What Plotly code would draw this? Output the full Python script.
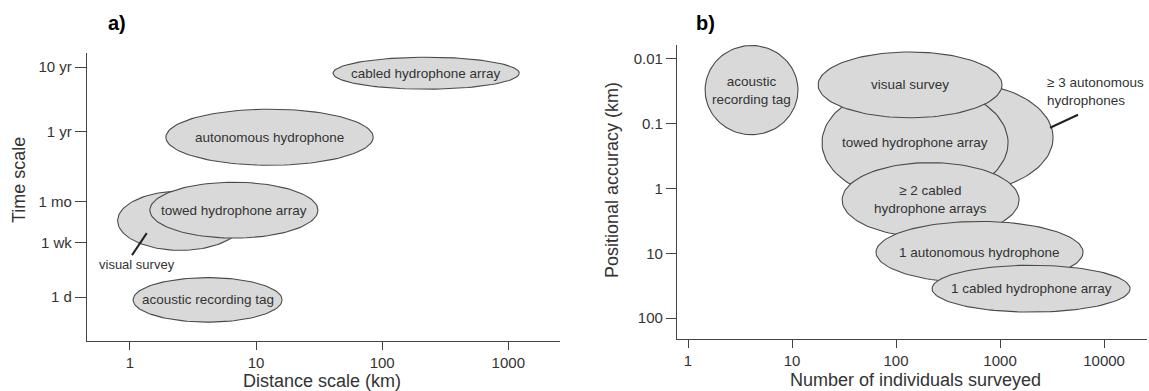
import numpy as np
import plotly.graph_objects as go

W, H = 1149, 391

# ---- Panel a: monitoring methods by spatial and temporal scale ----
a_names = ["cabled hydrophone array", "autonomous hydrophone", "visual survey",
           "towed hydrophone array", "acoustic recording tag"]
a_dist_lo = [40.8, 1.93, 0.80, 1.44, 1.06]      # km
a_dist_hi = [1222, 84.9, 7.9, 31.0, 16.1]       # km
a_time_lo = [1660, 110, 5.3, 8.2, 0.41]         # days
a_time_hi = [5190, 813, 43.7, 60.0, 2.0]        # days
a_label_inside = [True, True, False, True, True]

time_tick_days = [1, 7, 30.4, 365.25, 3652.5]
time_tick_text = ["1 d", "1 wk", "1 mo", "1 yr", "10 yr"]
dist_ticks = [1, 10, 100, 1000]

# ---- Panel b: positional accuracy vs. number of individuals ----
b_names = ["acoustic<br>recording tag", "≥ 3 autonomous<br>hydrophones",
           "towed hydrophone array", "visual survey",
           "≥ 2 cabled<br>hydrophone arrays", "1 autonomous hydrophone",
           "1 cabled hydrophone array"]
b_n_lo = [1.46, 52.6, 19.4, 17.8, 30.3, 64.2, 222]
b_n_hi = [11.4, 3235, 1194, 1045, 1524, 6280, 17800]
b_acc_lo = [0.0062, 0.0234, 0.0251, 0.0078, 0.398, 3.22, 15.3]   # km
b_acc_hi = [0.1476, 1.15, 1.53, 0.081, 5.68, 28.9, 80.9]          # km
b_label_inside = [True, False, True, True, True, True, True]

acc_ticks = [0.01, 0.1, 1, 10, 100]
acc_tick_text = ["0.01", "0.1", "1", "10", "100"]
n_ticks = [1, 10, 100, 1000, 10000]

FILL = "#d9d9d9"
EDGE = "#4a4a4a"
TXT = "#333333"
FONT = "Liberation Sans, Arial, sans-serif"


def ellipse(xlo, xhi, ylo, yhi, n=120):
    """Ellipse spanning the given extents in log-log space."""
    lx0, lx1 = np.log10(xlo), np.log10(xhi)
    ly0, ly1 = np.log10(ylo), np.log10(yhi)
    cx, cy = (lx0 + lx1) / 2, (ly0 + ly1) / 2
    rx, ry = (lx1 - lx0) / 2, (ly1 - ly0) / 2
    t = np.linspace(0, 2 * np.pi, n)
    return 10 ** (cx + rx * np.cos(t)), 10 ** (cy + ry * np.sin(t)), 10 ** cx, 10 ** cy


fig = go.Figure()
annotations = []

for name, x0, x1, y0, y1, inside in zip(a_names, a_dist_lo, a_dist_hi,
                                        a_time_lo, a_time_hi, a_label_inside):
    ex, ey, cx, cy = ellipse(x0, x1, y0, y1)
    fig.add_trace(go.Scatter(x=ex, y=ey, mode="lines", fill="toself",
                             fillcolor=FILL, line=dict(color=EDGE, width=1.1),
                             xaxis="x", yaxis="y", hoverinfo="skip", name=name))
    if inside:
        annotations.append(dict(x=np.log10(cx), y=np.log10(cy), xref="x", yref="y",
                                text=name, showarrow=False,
                                font=dict(size=13.5, color=TXT, family=FONT)))

for name, x0, x1, y0, y1, inside in zip(b_names, b_n_lo, b_n_hi,
                                        b_acc_lo, b_acc_hi, b_label_inside):
    ex, ey, cx, cy = ellipse(x0, x1, y0, y1)
    fig.add_trace(go.Scatter(x=ex, y=ey, mode="lines", fill="toself",
                             fillcolor=FILL, line=dict(color=EDGE, width=1.1),
                             xaxis="x2", yaxis="y2", hoverinfo="skip", name=name))
    if inside:
        annotations.append(dict(x=np.log10(cx), y=np.log10(cy), xref="x2", yref="y2",
                                text=name, showarrow=False,
                                font=dict(size=13.5, color=TXT, family=FONT)))

# Leader lines for labels placed outside their ellipse
fig.add_trace(go.Scatter(x=[1.04, 1.36], y=[4.47, 9.8], mode="lines",
                         line=dict(color="#222", width=2), xaxis="x", yaxis="y",
                         hoverinfo="skip"))
annotations.append(dict(x=np.log10(1.14), y=np.log10(3.24), xref="x", yref="y",
                        text="visual survey", showarrow=False,
                        font=dict(size=13, color=TXT, family=FONT)))

fig.add_trace(go.Scatter(x=[3027, 5623], y=[0.1153, 0.0728], mode="lines",
                         line=dict(color="#222", width=2), xaxis="x2", yaxis="y2",
                         hoverinfo="skip"))
annotations.append(dict(x=np.log10(2710), y=np.log10(0.0316), xref="x2", yref="y2",
                        text="≥ 3 autonomous<br>hydrophones", showarrow=False,
                        xanchor="left", align="left",
                        font=dict(size=13.5, color=TXT, family=FONT)))

# Panel letters and axis titles
def paper_text(x, y, text, size, angle=0, bold=False, color=TXT):
    return dict(x=x / W, y=1 - y / H, xref="paper", yref="paper",
                text=f"<b>{text}</b>" if bold else text, showarrow=False,
                textangle=angle, xanchor="center", yanchor="middle",
                font=dict(size=size, color=color, family=FONT))

annotations += [
    paper_text(117, 23, "a)", 20, bold=True, color="#000"),
    paper_text(705, 23, "b)", 20, bold=True, color="#000"),
    paper_text(19, 180, "Time scale", 18, angle=-90),
    paper_text(322, 381, "Distance scale (km)", 18),
    paper_text(612, 180, "Positional accuracy (km)", 18, angle=-90),
    paper_text(916, 380, "Number of individuals surveyed", 18),
]

axis_common = dict(type="log", showgrid=False, zeroline=False, showline=True,
                   linecolor="#444", linewidth=1.3, ticks="outside",
                   tickcolor="#444", tickwidth=1.3,
                   tickfont=dict(size=15, color=TXT, family=FONT))

fig.update_layout(
    width=W, height=H, autosize=False,
    margin=dict(l=0, r=0, t=0, b=0),
    paper_bgcolor="white", plot_bgcolor="white",
    showlegend=False,
    annotations=annotations,
    xaxis=dict(**axis_common, domain=[87 / W, 560 / W], anchor="y",
               range=[-0.34, 3.41], tickvals=dist_ticks,
               ticktext=[str(v) for v in dist_ticks], ticklen=8),
    yaxis=dict(**axis_common, domain=[1 - 341 / H, 1 - 53 / H], anchor="x",
               range=[-0.68, 3.78], tickvals=time_tick_days,
               ticktext=time_tick_text, ticklen=11),
    xaxis2=dict(**axis_common, domain=[677 / W, 1147 / W], anchor="y2",
                range=[-0.106, 4.413], tickvals=n_ticks,
                ticktext=[str(v) for v in n_ticks], ticklen=8),
    yaxis2=dict(**axis_common, domain=[1 - 339 / H, 1 - 45 / H], anchor="x2",
                range=[2.323, -2.215], tickvals=acc_ticks,
                ticktext=acc_tick_text, ticklen=10),
)

fig.write_html("out.html")
